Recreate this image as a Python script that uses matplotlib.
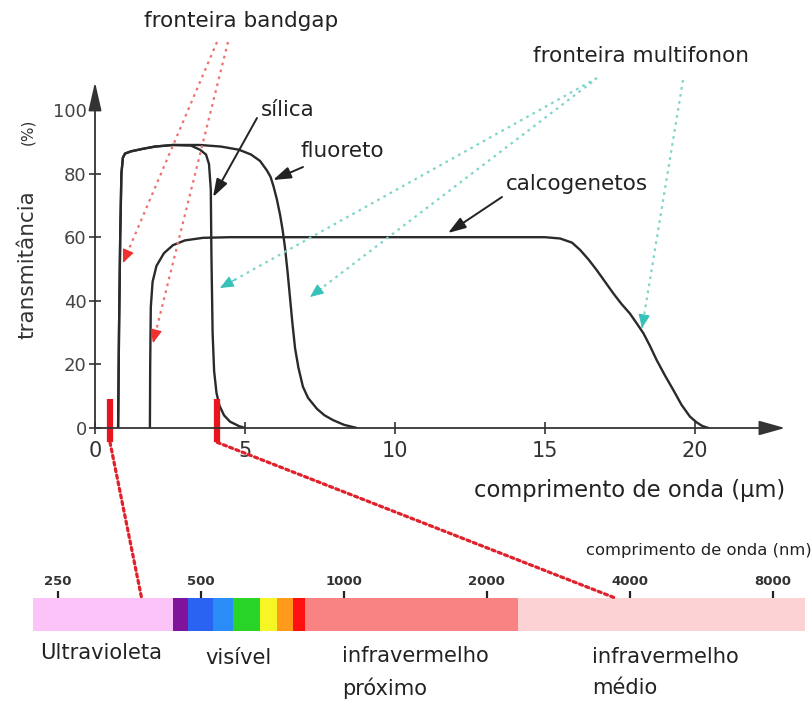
import matplotlib
matplotlib.use("Agg")
import matplotlib.pyplot as plt
from matplotlib import font_manager
from matplotlib.patches import ConnectionPatch
from matplotlib.ticker import NullLocator

# ---------------- data ----------------
silica_wl = [0.77, 0.80, 0.84, 0.88, 0.93, 1.0, 1.2, 1.6, 2.0, 2.6, 3.2, 3.5, 3.7, 3.8, 3.86,
             3.88, 3.92, 3.97, 4.05, 4.15, 4.3, 4.5, 4.8, 5.0]
silica_t = [0, 30, 60, 80, 85, 86.3, 87, 87.8, 88.5, 89, 88.8, 87.5, 86, 83, 75,
            55, 30, 18, 11, 7, 4, 2, 0.6, 0]

fluor_wl = [0.77, 0.80, 0.84, 0.88, 0.93, 1.0, 1.2, 1.6, 2.0, 2.6, 3.5, 4.2, 4.8, 5.2, 5.5,
            5.73, 5.85, 5.95, 6.06, 6.17, 6.25, 6.33, 6.42, 6.5, 6.58, 6.67, 6.78, 6.93,
            7.1, 7.4, 7.65, 7.93, 8.3, 8.73]
fluor_t = [0, 30, 60, 80, 85, 86.3, 87, 87.8, 88.5, 89, 89, 88.5, 87.5, 86, 84,
           81, 79, 76, 72, 67, 62.5, 57, 49, 41, 33, 25, 19, 13,
           9.5, 6, 4, 2.5, 1, 0]

calco_wl = [1.83, 1.84, 1.86, 1.92, 2.05, 2.3, 2.6, 3.0, 3.6, 4.5, 8.0, 12.0, 15.0, 15.5,
            15.9, 16.17, 16.45, 16.72, 17.0, 17.28, 17.55, 17.83, 18.05, 18.28, 18.5,
            18.72, 19.0, 19.28, 19.55, 19.83, 20.05, 20.25, 20.45]
calco_t = [0, 20, 38, 46, 51, 55, 57.5, 59, 59.8, 60, 60, 60, 60, 59.6,
           58.3, 56, 53, 49.7, 46, 42.3, 39, 36, 33, 29.8, 25.8,
           21.4, 16.5, 11.9, 7.3, 3.6, 1.8, 0.6, 0]

x_ticks = [0, 5, 10, 15, 20]
y_ticks = [0, 20, 40, 60, 80, 100]

# markers of the zoomed window (um) and where they land on the spectrum (nm)
marker_um = [0.5, 4.07]
marker_nm = [375, 3730]

# spectrum bands (nm)
band_edges = [221, 437, 470, 530, 584, 666, 723, 782, 829, 2328, 9365]
band_colors = ["#fbc3f7", "#80139c", "#2a62f2", "#2a8cf6", "#28d428", "#f6f626",
               "#ff9a1a", "#ff1010", "#f98383", "#fcd2d4"]
nm_ticks = [250, 500, 1000, 2000, 4000, 8000]
nm_labels = ["250", "500", "1000", "2000", "4000", "8000"]

# ---------------- fonts ----------------
names = {f.name for f in font_manager.fontManager.ttflist}
if "Liberation Sans Narrow" in names:
    NARROW = ["Liberation Sans Narrow", "DejaVu Sans"]
    NS = 1.0
else:
    NARROW = ["DejaVu Sans"]
    NS = 0.74
plt.rcParams["font.family"] = ["DejaVu Sans"]

W, H = 811, 701
fig = plt.figure(figsize=(W / 100, H / 100), dpi=100)
fig.patch.set_facecolor("white")


def fx(p):
    return p / W


def fy(p):
    return 1 - p / H


# ---------------- main axes ----------------
PPU_X = 30.0
PPU_Y = 3.18
ax = fig.add_axes([fx(95), fy(428), fx(785) - fx(95), fy(82) - fy(428)])
ax.set_xlim(0, (785 - 95) / PPU_X)
ax.set_ylim(0, (428 - 82) / PPU_Y)
for s in ax.spines.values():
    s.set_visible(False)
ax.patch.set_alpha(0)

axis_col = "#333333"
ax.annotate("", xy=(1, 0), xytext=(0, 0), xycoords="axes fraction",
            arrowprops=dict(arrowstyle="-|>,head_length=1.0,head_width=0.28", lw=1.3,
                            color=axis_col, shrinkA=0, shrinkB=0, mutation_scale=16))
ax.annotate("", xy=(0, 1), xytext=(0, 0), xycoords="axes fraction",
            arrowprops=dict(arrowstyle="-|>,head_length=1.1,head_width=0.25", lw=1.3,
                            color=axis_col, shrinkA=0, shrinkB=0, mutation_scale=16))

ax.set_xticks(x_ticks)
ax.set_yticks(y_ticks)
ax.tick_params(direction="inout", length=9, width=1.2, color=axis_col)
ax.tick_params(axis="y", labelsize=13, pad=1.5, labelcolor="#444444")
ax.tick_params(axis="x", labelsize=15, pad=5, labelcolor="#333333")

curve_col = "#2a2a2a"
for wl, t in [(silica_wl, silica_t), (fluor_wl, fluor_t), (calco_wl, calco_t)]:
    ax.plot(wl, t, color=curve_col, lw=1.7, solid_joinstyle="round", solid_capstyle="round")

# red window markers
for m in marker_um:
    ax.plot([m, m], [9, -4.5], color="#e8141e", lw=4.5, clip_on=False, solid_capstyle="butt")


def to_data(px, py):
    return ((px - 95) / PPU_X, (428 - py) / PPU_Y)


def dotted_arrow(tail, head, line_col, head_col):
    tx, ty = to_data(*tail)
    hx, hy = to_data(*head)
    ax.plot([tx, hx], [ty, hy], color=line_col, lw=1.6, linestyle=(0, (1.2, 2.0)),
            clip_on=False)
    px_, py_ = hx + (tx - hx) * 0.04, hy + (ty - hy) * 0.04
    ax.annotate("", xy=(hx, hy), xytext=(px_, py_), annotation_clip=False,
                arrowprops=dict(arrowstyle="-|>,head_length=0.7,head_width=0.3",
                                color=head_col, lw=0.8, shrinkA=0, shrinkB=0,
                                mutation_scale=12))


def solid_arrow(tail, head):
    ax.annotate("", xy=to_data(*head), xytext=to_data(*tail), annotation_clip=False,
                arrowprops=dict(arrowstyle="-|>,head_length=0.9,head_width=0.3",
                                color="#222222", lw=1.4, shrinkA=0, shrinkB=0,
                                mutation_scale=12))


# bandgap (red) arrows
dotted_arrow((217, 42), (123, 263), "#f07070", "#ee3030")
dotted_arrow((228, 42), (153, 343), "#f07070", "#ee3030")
# multiphonon (cyan) arrows
dotted_arrow((597, 78), (220, 288), "#7fd4cc", "#36c2b8")
dotted_arrow((592, 82), (310, 297), "#7fd4cc", "#36c2b8")
dotted_arrow((683, 80), (642, 328), "#7fd4cc", "#36c2b8")
# labels arrows
solid_arrow((257, 118), (213, 197))
solid_arrow((303, 167), (273, 180))
solid_arrow((502, 197), (448, 233))

lab_kw = dict(fontsize=15.5, color="#222222", va="center", ha="center")
fig.text(fx(241), fy(21), "fronteira bandgap", **lab_kw)
fig.text(fx(641), fy(56), "fronteira multifonon", **lab_kw)
fig.text(fx(288), fy(110), "sílica", **lab_kw)
fig.text(fx(342), fy(151), "fluoreto", **lab_kw)
fig.text(fx(577), fy(184), "calcogenetos", **lab_kw)

fig.text(fx(27), fy(265), "transmitância", rotation=90, fontsize=15.5, color="#333333",
         va="center", ha="center")
fig.text(fx(28), fy(132), "(%)", rotation=90, fontsize=11, color="#333333",
         va="center", ha="center")
fig.text(fx(630), fy(490), "comprimento de onda (µm)", family=NARROW, fontsize=22 * NS,
         color="#222222", va="center", ha="center")

# ---------------- spectrum bar ----------------
axb = fig.add_axes([0, fy(631), 1, fy(598) - fy(631)])
axb.set_xscale("log")
axb.set_xlim(188.7, 9640)
axb.set_ylim(0, 1)
for lo, hi, c in zip(band_edges[:-1], band_edges[1:], band_colors):
    axb.axvspan(lo, hi, color=c, lw=0)
for s in axb.spines.values():
    s.set_visible(False)
axb.set_yticks([])
axb.xaxis.set_minor_locator(NullLocator())
axb.set_xticks(nm_ticks)
axb.set_xticklabels(nm_labels)
axb.tick_params(axis="x", which="major", top=True, bottom=False, labeltop=True,
                labelbottom=False, direction="out", length=5, width=1.6, color="#222222",
                labelsize=9.5, pad=2, labelcolor="#333333")
for lbl in axb.get_xticklabels():
    lbl.set_fontweight("bold")
axb.patch.set_alpha(0)

# connectors from window markers to spectrum
for m_um, m_nm in zip(marker_um, marker_nm):
    con = ConnectionPatch(xyA=(m_um, -4.5), coordsA=ax.transData,
                          xyB=(m_nm, 1.0), coordsB=axb.transData,
                          color="#e0202a", lw=2.3, linestyle=(0, (1.0, 1.1)))
    fig.add_artist(con)

bk = dict(family=NARROW, fontsize=20.5 * NS, color="#222222", va="center")
fig.text(fx(101), fy(653), "Ultravioleta", ha="center", **bk)
fig.text(fx(238), fy(658), "visível", ha="center", **bk)
fig.text(fx(342), fy(656), "infravermelho", ha="left", **bk)
fig.text(fx(342), fy(688), "próximo", ha="left", **bk)
fig.text(fx(592), fy(657), "infravermelho", ha="left", **bk)
fig.text(fx(592), fy(688), "médio", ha="left", **bk)
fig.text(fx(812), fy(551), "comprimento de onda (nm)", family=NARROW, fontsize=16 * NS,
         color="#222222", va="center", ha="right")

fig.savefig("out.png", dpi=100, facecolor="white")
